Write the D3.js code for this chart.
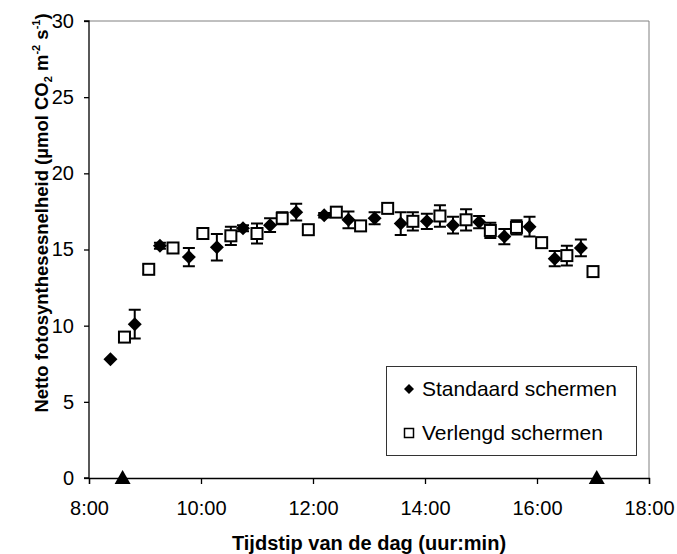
<!DOCTYPE html>
<html><head><meta charset="utf-8">
<script src="https://cdn.jsdelivr.net/npm/d3@7"></script>
<style>
body{margin:0;background:#fff;}
svg{display:block;font-family:"Liberation Sans",Arial,sans-serif;}
</style></head>
<body>
<svg id="c" width="677" height="554"></svg>
<script>
// Standaard schermen (diamonds): time, mean, error half-width
const stdTimes = ["8:23","8:49","9:16","9:47","10:17","10:45","11:14","11:42","12:12","12:38","13:06","13:34","14:02","14:30","14:58","15:25","15:52","16:19","16:47"];
const stdValues = [7.8,10.1,15.25,14.5,15.15,16.4,16.6,17.45,17.25,16.95,17.05,16.7,16.85,16.6,16.8,15.85,16.5,14.4,15.1];
const stdErrors = [0,0.95,0.2,0.6,0.87,0.2,0.45,0.55,0.15,0.55,0.4,0.75,0.5,0.55,0.4,0.5,0.65,0.5,0.55];
// Verlengd schermen (squares)
const verTimes = ["8:38","9:04","9:30","10:02","10:32","11:00","11:27","11:55","12:25","12:51","13:20","13:47","14:16","14:44","15:10","15:38","16:05","16:32","17:00"];
const verValues = [9.25,13.7,15.1,16.05,15.9,16.05,17.05,16.3,17.45,16.55,17.7,16.85,17.2,16.95,16.25,16.45,15.45,14.6,13.55];
const verErrors = [0,0.3,0,0,0.6,0.65,0.4,0,0,0,0,0.6,0.7,0.7,0.5,0.47,0.25,0.65,0];
// triangles on the x axis
const triTimes = ["8:36","17:04"];
const triValues = [0,0];
const xTickLabels = ["8:00","10:00","12:00","14:00","16:00","18:00"];
const xTickValues = [8,10,12,14,16,18];
const yTickValues = [0,5,10,15,20,25,30];
const legendLabels = ["Standaard schermen","Verlengd schermen"];

const toH = s => { const [h,m] = s.split(":").map(Number); return h + m/60; };
const std = stdTimes.map((t,i)=>({x:toH(t), y:stdValues[i], e:stdErrors[i]}));
const ver = verTimes.map((t,i)=>({x:toH(t), y:verValues[i], e:verErrors[i]}));
const tri = triTimes.map((t,i)=>({x:toH(t), y:triValues[i]}));

const svg = d3.select("#c");
const L=89, R=649, T=21, B=478;
const x = d3.scaleLinear().domain([8,18]).range([L,R]);
const y = d3.scaleLinear().domain([0,30]).range([B,T]);

// plot border (top/right gray)
svg.append("path").attr("d",`M${L},${T}H${R}V${B}`).attr("fill","none").attr("stroke","#808080").attr("stroke-width",1);

// axes
const yAxis = d3.axisLeft(y).tickValues(yTickValues).tickSize(5).tickPadding(10).tickFormat(d3.format("d"));
const gy = svg.append("g").attr("transform",`translate(${L},0)`).call(yAxis);
const xAxis = d3.axisBottom(x).tickValues(xTickValues).tickSize(6).tickPadding(17).tickFormat((d,i)=>xTickLabels[i]);
const gx = svg.append("g").attr("transform",`translate(0,${B})`).call(xAxis);
[gx,gy].forEach(g=>{
  g.select(".domain").attr("stroke","#000").attr("stroke-width",1.3);
  g.selectAll(".tick line").attr("stroke","#000").attr("stroke-width",1.3);
  g.selectAll(".tick text").attr("font-size",20).attr("fill","#000").attr("font-family","Liberation Sans, Arial, sans-serif");
});
gy.select(".domain").attr("d",`M-5,${T}H0V${B}H-5`);

// error bars
function errBars(data){
  const g = svg.append("g").attr("stroke","#000").attr("stroke-width",2).attr("fill","none");
  data.filter(d=>d.e>0).forEach(d=>{
    const cx=x(d.x), y1=y(d.y+d.e), y2=y(d.y-d.e);
    g.append("path").attr("d",`M${cx},${y1}V${y2}M${cx-6},${y1}H${cx+6}M${cx-6},${y2}H${cx+6}`);
  });
}
errBars(std); errBars(ver);

// diamonds
svg.append("g").selectAll("path").data(std).join("path")
  .attr("transform",d=>`translate(${x(d.x)},${y(d.y)})`)
  .attr("d","M0,-7L7,0L0,7L-7,0Z").attr("fill","#000");
// squares
svg.append("g").selectAll("rect").data(ver).join("rect")
  .attr("x",d=>x(d.x)-5.5).attr("y",d=>y(d.y)-5.5).attr("width",11).attr("height",11)
  .attr("fill","#fff").attr("stroke","#000").attr("stroke-width",2);
// triangles
svg.append("g").selectAll("path").data(tri).join("path")
  .attr("transform",d=>`translate(${x(d.x)},${y(d.y)})`)
  .attr("d","M0,-8L8,6L-8,6Z").attr("fill","#000");

// legend
const lg = svg.append("g");
lg.append("rect").attr("x",386.5).attr("y",366.5).attr("width",250).attr("height",89)
  .attr("fill","#fff").attr("stroke","#333").attr("stroke-width",1);
lg.append("path").attr("d","M409,384L414,389L409,394L404,389Z").attr("fill","#000");
lg.append("rect").attr("x",404.5).attr("y",428.5).attr("width",9).attr("height",9).attr("fill","#fff").attr("stroke","#000").attr("stroke-width",1.5);
lg.selectAll("text").data(legendLabels).join("text")
  .attr("x",422).attr("y",(d,i)=>396+i*44).attr("font-size",21).attr("fill","#000").text(d=>d);

// axis titles
svg.append("text").attr("x",369).attr("y",550).attr("text-anchor","middle")
  .attr("font-size",20).attr("font-weight","bold").text("Tijdstip van de dag (uur:min)");
const yt = svg.append("text").attr("transform","translate(48,213) rotate(-90)").attr("text-anchor","middle")
  .attr("font-size",18.5).attr("font-weight","bold");
yt.append("tspan").text("Netto fotosynthesesnelheid (µmol CO");
yt.append("tspan").attr("font-size",11).attr("dy",4).text("2");
yt.append("tspan").attr("dy",-4).text(" m");
yt.append("tspan").attr("font-size",11).attr("dy",-8).text("-2");
yt.append("tspan").attr("dy",8).text(" s");
yt.append("tspan").attr("font-size",11).attr("dy",-8).text("-1");
yt.append("tspan").attr("dy",8).text(")");
</script>
</body></html>
